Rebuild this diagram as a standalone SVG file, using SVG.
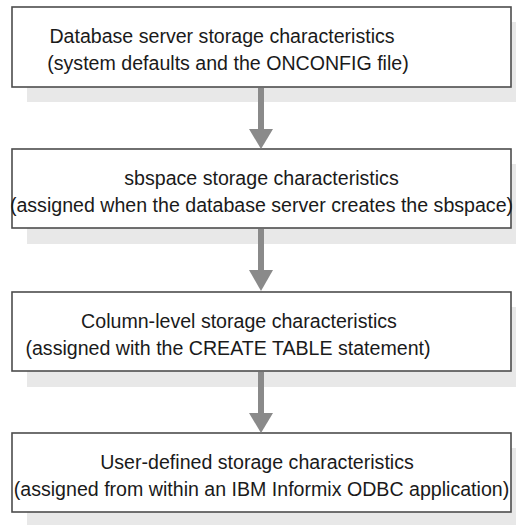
<svg xmlns="http://www.w3.org/2000/svg" width="516" height="525" viewBox="0 0 516 525">
<defs>
<style>
.shadow{fill:#e8e8e8;stroke:none}
.box{fill:#ffffff;stroke:#4d4d4d;stroke-width:1.6}
.t{font-family:"Liberation Sans",Arial,sans-serif;font-size:19.6px;fill:#1a1a1a;text-anchor:middle}
.shaft{stroke:#8a8a8a;stroke-width:6;fill:none}
.head{fill:#8a8a8a}
</style>
</defs>
<rect width="516" height="525" fill="#ffffff"/>
<g id="node1">
<rect class="shadow" x="27" y="22" width="489" height="80"/>
<rect class="box" x="12" y="7" width="499" height="80"/>
<text class="t" x="222" y="43">Database server storage characteristics</text>
<text class="t" x="228" y="70">(system defaults and the ONCONFIG file)</text>
</g>
<g id="node2">
<rect class="shadow" x="27" y="164" width="489" height="80"/>
<rect class="box" x="12" y="149" width="499" height="79"/>
<text class="t" x="261.5" y="185">sbspace storage characteristics</text>
<text class="t" x="261.5" y="212">(assigned when the database server creates the sbspace)</text>
</g>
<g id="node3">
<rect class="shadow" x="27" y="307" width="489" height="80"/>
<rect class="box" x="12" y="292" width="499" height="79"/>
<text class="t" x="239" y="328">Column-level storage characteristics</text>
<text class="t" x="228" y="355">(assigned with the CREATE TABLE statement)</text>
</g>
<g id="node4">
<rect class="shadow" x="27" y="448" width="489" height="80"/>
<rect class="box" x="12" y="433" width="499" height="79"/>
<text class="t" x="257" y="469">User-defined storage characteristics</text>
<text class="t" x="261.5" y="496">(assigned from within an IBM Informix ODBC application)</text>
</g>
<g id="connectors">
<line class="shaft" x1="261" y1="88" x2="261" y2="131"/>
<polygon class="head" points="249,129 273,129 261,149"/>
<line class="shaft" x1="261" y1="229" x2="261" y2="272"/>
<polygon class="head" points="249,270 273,270 261,291"/>
<line class="shaft" x1="261" y1="372" x2="261" y2="415"/>
<polygon class="head" points="249,413 273,413 261,433"/>
</g>
</svg>
